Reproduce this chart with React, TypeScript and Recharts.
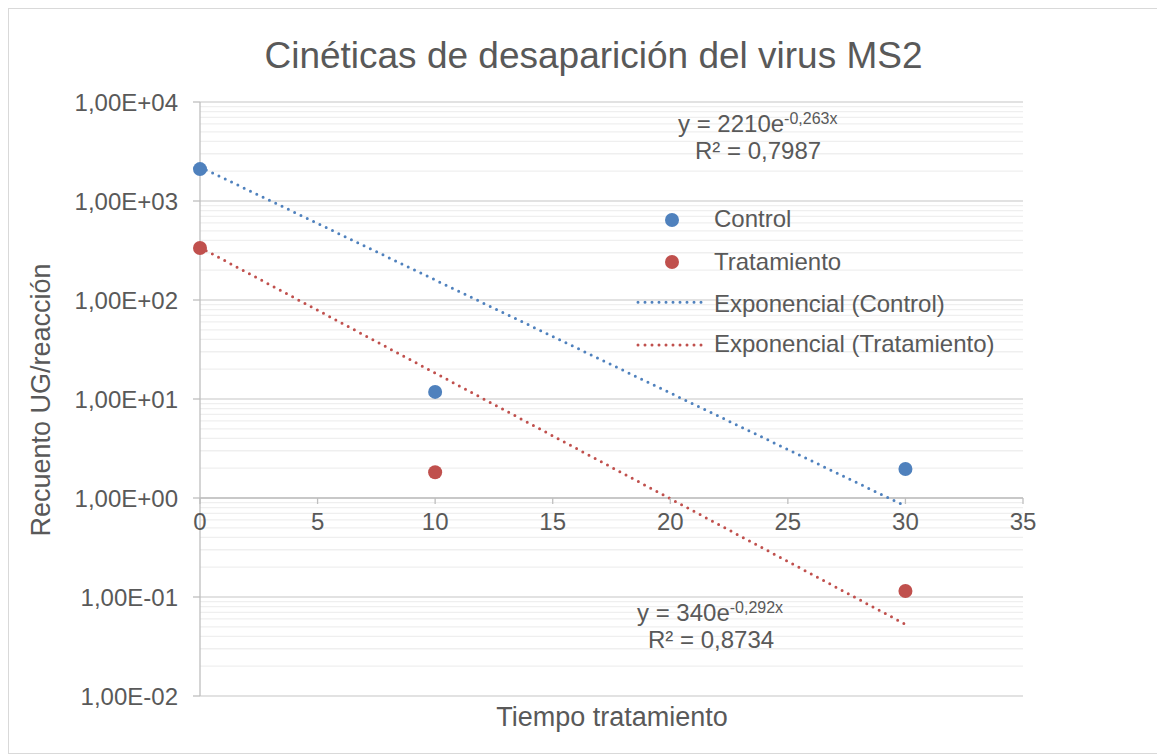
import React from 'react';
import {
  ComposedChart,
  Scatter,
  Line,
  XAxis,
  YAxis,
  CartesianGrid,
  ReferenceLine,
} from 'recharts';

// Tiempo tratamiento (min)
const tiempos = [0, 10, 30];
const controlValues = [2100, 11.8, 1.96];
const tratamientoValues = [335, 1.82, 0.115];

// extremos de las líneas de tendencia exponencial (recta en eje log)
const trendTiempos = [0, 30];
const controlTrend = [2210, 0.83];
const tratamientoTrend = [340, 0.053];

const xTicks = [0, 5, 10, 15, 20, 25, 30, 35];
const yTicks = [0.01, 0.1, 1, 10, 100, 1000, 10000];
const minorMultipliers = [2, 3, 4, 5, 6, 7, 8, 9];

const BLUE = '#4F81BD';
const RED = '#C0504D';
const TEXT = '#595959';
const FONT = '"Liberation Sans", Arial, sans-serif';

const W = 1155;
const H = 744;
const PLOT_TOP = 93;
const PLOT_H = 594;
// el eje X cruza en y = 1 (2 décadas por encima del fondo)
const X_AXIS_SHIFT = (PLOT_H * 2) / 6;

const controlData = tiempos.map((x, i) => ({ x, y: controlValues[i] }));
const tratamientoData = tiempos.map((x, i) => ({ x, y: tratamientoValues[i] }));
const controlTrendData = trendTiempos.map((x, i) => ({ x, y: controlTrend[i] }));
const tratamientoTrendData = trendTiempos.map((x, i) => ({ x, y: tratamientoTrend[i] }));

const minorGrid: number[] = [];
yTicks.slice(0, -1).forEach(d => minorMultipliers.forEach(m => minorGrid.push(+(d * m).toPrecision(3))));

const formatY = (v: number) => {
  const e = Math.round(Math.log10(v));
  return `1,00E${e < 0 ? '-' : '+'}${String(Math.abs(e)).padStart(2, '0')}`;
};

const XTick = (props: any) => {
  const { x, y, payload } = props;
  const ay = y - X_AXIS_SHIFT;
  return (
    <g>
      <line x1={x} x2={x} y1={ay} y2={ay + 6} stroke="#bfbfbf" strokeWidth={1.3} />
      <text x={x} y={ay + 32} textAnchor="middle" fill={TEXT} fontSize={24} fontFamily={FONT}>
        {payload.value}
      </text>
    </g>
  );
};

const dot = (color: string) => (props: any) => (
  <circle cx={props.cx} cy={props.cy} r={7} fill={color} />
);

export default function App() {
  return (
    <div
      style={{
        position: 'relative',
        width: 1157,
        height: 746,
        boxSizing: 'border-box',
        border: '1px solid #d9d9d9',
        background: '#fff',
        fontFamily: FONT,
      }}
    >
      <ComposedChart
        width={W}
        height={H}
        margin={{ top: PLOT_TOP, right: 141, bottom: 27, left: 91 }}
      >
        {minorGrid.map(v => (
          <ReferenceLine key={v} y={v} stroke="#efefef" strokeWidth={1.3} />
        ))}
        <CartesianGrid vertical={false} stroke="#d9d9d9" strokeWidth={1.3} />
        <XAxis
          dataKey="x"
          type="number"
          domain={[0, 35]}
          ticks={xTicks}
          height={30}
          axisLine={false}
          tickLine={false}
          tickSize={0}
          tickMargin={0}
          tick={<XTick />}
          interval={0}
        />
        <YAxis
          type="number"
          scale="log"
          domain={[0.01, 10000]}
          ticks={yTicks}
          allowDataOverflow
          width={100}
          tickFormatter={formatY}
          tick={{ fill: TEXT, fontSize: 24, fontFamily: FONT }}
          axisLine={{ stroke: '#bfbfbf', strokeWidth: 1.3 }}
          tickLine={{ stroke: '#bfbfbf', strokeWidth: 1.3 }}
          tickSize={7}
          tickMargin={15}
          interval={0}
        />
        <ReferenceLine y={1} stroke="#bfbfbf" strokeWidth={1.3} />
        <Line
          data={controlTrendData}
          dataKey="y"
          stroke={BLUE}
          strokeWidth={3}
          strokeLinecap="round"
          strokeDasharray="0 7"
          dot={false}
          activeDot={false}
          isAnimationActive={false}
        />
        <Line
          data={tratamientoTrendData}
          dataKey="y"
          stroke={RED}
          strokeWidth={3}
          strokeLinecap="round"
          strokeDasharray="0 7"
          dot={false}
          activeDot={false}
          isAnimationActive={false}
        />
        <Scatter data={controlData} dataKey="y" fill={BLUE} shape={dot(BLUE)} isAnimationActive={false} />
        <Scatter data={tratamientoData} dataKey="y" fill={RED} shape={dot(RED)} isAnimationActive={false} />
      </ComposedChart>

      <svg
        width={W}
        height={H}
        style={{ position: 'absolute', left: 0, top: 0, pointerEvents: 'none' }}
        fontFamily={FONT}
        fill={TEXT}
      >
        <text x={584.5} y={59} textAnchor="middle" fontSize={37}>
          Cinéticas de desaparición del virus MS2
        </text>
        <text x={603} y={716.5} textAnchor="middle" fontSize={27}>
          Tiempo tratamiento
        </text>
        <text x={40.7} y={391} textAnchor="middle" fontSize={27} transform="rotate(-90, 40.7, 391)">
          Recuento UG/reacción
        </text>

        <text x={669} y={123} fontSize={24}>
          y = 2210e<tspan fontSize={16} dy={-8}>-0,263x</tspan>
        </text>
        <text x={686} y={150} fontSize={24}>R² = 0,7987</text>
        <text x={628} y={611.7} fontSize={24}>
          y = 340e<tspan fontSize={16} dy={-8}>-0,292x</tspan>
        </text>
        <text x={639} y={639} fontSize={24}>R² = 0,8734</text>

        <circle cx={663} cy={211} r={7} fill={BLUE} />
        <text x={705} y={218} fontSize={24}>Control</text>
        <circle cx={663} cy={253} r={7} fill={RED} />
        <text x={705} y={261} fontSize={24}>Tratamiento</text>
        <line x1={629} x2={694} y1={293.3} y2={293.3} stroke={BLUE} strokeWidth={3} strokeLinecap="round" strokeDasharray="0 7" />
        <text x={705} y={302.7} fontSize={24}>Exponencial (Control)</text>
        <line x1={629} x2={694} y1={336} y2={336} stroke={RED} strokeWidth={3} strokeLinecap="round" strokeDasharray="0 7" />
        <text x={705} y={342.7} fontSize={24}>Exponencial (Tratamiento)</text>
      </svg>
    </div>
  );
}
